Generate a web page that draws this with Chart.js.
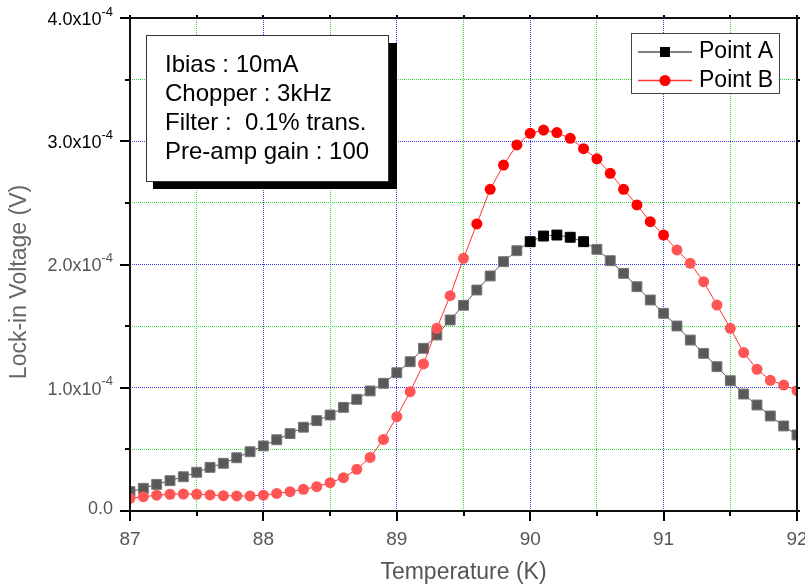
<!DOCTYPE html>
<html>
<head>
<meta charset="utf-8">
<title>Lock-in Voltage vs Temperature</title>
<script src="https://cdn.jsdelivr.net/npm/chart.js@4.4.0/dist/chart.umd.min.js"></script>
<style>
  html, body { margin: 0; padding: 0; background: #fff; }
</style>
</head>
<body>
<canvas id="chart" width="805" height="588"></canvas>
<script>
// Data (y values in units of 1e-4 V)
const temperature = [
  87.0, 87.1, 87.2, 87.3, 87.4, 87.5, 87.6, 87.7, 87.8, 87.9,
  88.0, 88.1, 88.2, 88.3, 88.4, 88.5, 88.6, 88.7, 88.8, 88.9,
  89.0, 89.1, 89.2, 89.3, 89.4, 89.5, 89.6, 89.7, 89.8, 89.9,
  90.0, 90.1, 90.2, 90.3, 90.4, 90.5, 90.6, 90.7, 90.8, 90.9,
  91.0, 91.1, 91.2, 91.3, 91.4, 91.5, 91.6, 91.7, 91.8, 91.9,
  92.0
];
const pointA = [
  0.157, 0.184, 0.216, 0.246, 0.278, 0.314, 0.354, 0.387, 0.432, 0.481,
  0.528, 0.578, 0.628, 0.680, 0.733, 0.779, 0.841, 0.906, 0.974, 1.036,
  1.122, 1.211, 1.320, 1.428, 1.550, 1.669, 1.793, 1.907, 2.023, 2.112,
  2.185, 2.231, 2.239, 2.221, 2.185, 2.123, 2.031, 1.928, 1.820, 1.712,
  1.604, 1.501, 1.387, 1.279, 1.171, 1.057, 0.949, 0.860, 0.771, 0.690,
  0.617
];
const pointB = [
  0.103, 0.116, 0.128, 0.136, 0.138, 0.136, 0.130, 0.124, 0.122, 0.122,
  0.128, 0.143, 0.157, 0.176, 0.197, 0.230, 0.270, 0.338, 0.435, 0.581,
  0.765, 0.968, 1.193, 1.482, 1.747, 2.050, 2.329, 2.610, 2.807, 2.970,
  3.064, 3.091, 3.070, 3.024, 2.940, 2.857, 2.740, 2.610, 2.483, 2.347,
  2.239, 2.118, 2.010, 1.861, 1.671, 1.482, 1.285, 1.150, 1.060, 1.022,
  0.976
];
const seriesNames = ['Point A', 'Point B'];
const yTickValues = [0, 1, 2, 3, 4];
const yTickLabels = ['0.0', '1.0x10', '2.0x10', '3.0x10', '4.0x10'];
const yTickExponents = ['', '-4', '-4', '-4', '-4'];
const infoLines = ['Ibias : 10mA', 'Chopper : 3kHz', 'Filter :  0.1% trans.', 'Pre-amp gain : 100'];

const FONT = 'Arial, "Liberation Sans", sans-serif';

// grid: blue dotted at whole values, green dotted at halves, none on the frame
function gridColor(min, max) {
  return function(ctx) {
    const v = ctx.tick ? ctx.tick.value : 0;
    if (v <= min || v >= max) return 'rgba(0,0,0,0)';
    return Number.isInteger(v) ? '#3a3aff' : '#2fe02f';
  };
}

// frame, tick marks, y labels with superscript, text box and legend
const decorations = {
  id: 'decorations',
  afterDraw(chart) {
    const ctx = chart.ctx;
    const a = chart.chartArea;
    const xs = chart.scales.x, ys = chart.scales.y;
    ctx.save();

    // tick marks (outward on left/bottom, short ones on top/right)
    ctx.strokeStyle = '#000';
    ctx.lineWidth = 2;
    ctx.beginPath();
    [87, 87.5, 88, 88.5, 89, 89.5, 90, 90.5, 91, 91.5, 92].forEach(v => {
      const px = Math.round(xs.getPixelForValue(v));
      const len = Number.isInteger(v) ? 10 : 5;
      ctx.moveTo(px, a.bottom); ctx.lineTo(px, a.bottom + len);
      ctx.moveTo(px, a.top); ctx.lineTo(px, a.top - 3);
    });
    [0, 0.5, 1, 1.5, 2, 2.5, 3, 3.5, 4].forEach(v => {
      const py = Math.round(ys.getPixelForValue(v));
      const len = Number.isInteger(v) ? 10 : 5;
      ctx.moveTo(a.left, py); ctx.lineTo(a.left - len, py);
      ctx.moveTo(a.right, py); ctx.lineTo(a.right + 3, py);
    });
    ctx.stroke();

    // frame
    ctx.strokeStyle = '#111';
    ctx.lineWidth = 2;
    ctx.strokeRect(a.left, a.top, a.right - a.left, a.bottom - a.top);

    // y tick labels
    ctx.textAlign = 'right';
    ctx.textBaseline = 'middle';
    yTickValues.forEach((v, i) => {
      const py = ys.getPixelForValue(v);
      const rx = a.left - 17;
      ctx.fillStyle = v >= 3 ? '#000' : '#555';
      if (yTickExponents[i]) {
        ctx.font = '13px ' + FONT;
        const w = ctx.measureText(yTickExponents[i]).width;
        ctx.fillText(yTickExponents[i], rx, py - 6);
        ctx.font = '18px ' + FONT;
        ctx.fillText(yTickLabels[i], rx - w, py + 2);
      } else {
        ctx.font = '18px ' + FONT;
        ctx.fillText(yTickLabels[i], rx, py - 2);
      }
    });

    // y title
    ctx.save();
    ctx.translate(20, 282);
    ctx.rotate(-Math.PI / 2);
    ctx.textAlign = 'center';
    ctx.fillStyle = '#666';
    ctx.font = '23px ' + FONT;
    ctx.fillText('Lock-in Voltage (V)', 0, 0);
    ctx.restore();

    // info box with shadow
    ctx.fillStyle = '#000';
    ctx.fillRect(153, 43, 244, 146);
    ctx.fillStyle = '#fff';
    ctx.fillRect(146, 35, 242, 146);
    ctx.strokeStyle = '#333';
    ctx.lineWidth = 1;
    ctx.strokeRect(146.5, 35.5, 242, 146);
    ctx.fillStyle = '#000';
    ctx.font = '24px ' + FONT;
    ctx.textAlign = 'left';
    infoLines.forEach((line, i) => ctx.fillText(line, 165, 65 + i * 29));

    // legend
    ctx.fillStyle = '#fff';
    ctx.fillRect(631.5, 33.5, 148, 60);
    ctx.strokeStyle = '#444';
    ctx.strokeRect(631.5, 33.5, 148, 60);
    chart.data.datasets.forEach((ds, i) => {
      const ly = 52 + i * 28.5;
      ctx.strokeStyle = ds.borderColor;
      ctx.lineWidth = 1.5;
      ctx.beginPath();
      ctx.moveTo(638, ly); ctx.lineTo(692, ly);
      ctx.stroke();
      ctx.fillStyle = i === 0 ? '#000' : '#ff0000';
      if (ds.pointStyle === 'rect') {
        ctx.fillRect(660, ly - 5, 10, 10);
      } else {
        ctx.beginPath();
        ctx.arc(665, ly, 5.5, 0, Math.PI * 2);
        ctx.fill();
      }
      ctx.fillStyle = '#000';
      ctx.font = '23px ' + FONT;
      ctx.fillText(ds.label, 699, ly);
    });

    ctx.restore();
  }
};

const chart = new Chart(document.getElementById('chart'), {
  type: 'line',
  data: {
    datasets: [
      {
        label: seriesNames[0],
        data: temperature.map((t, i) => ({ x: t, y: pointA[i] })),
        borderColor: '#555555',
        borderWidth: 1,
        pointStyle: 'rect',
        pointRadius: 7,
        pointBorderWidth: 1,
        pointBackgroundColor: c => (c.parsed && c.parsed.y > 2.15) ? '#000' : '#595959',
        pointBorderColor: c => (c.parsed && c.parsed.y > 2.15) ? '#000' : '#777',
        order: 1
      },
      {
        label: seriesNames[1],
        data: temperature.map((t, i) => ({ x: t, y: pointB[i] })),
        borderColor: '#ff3030',
        borderWidth: 1,
        pointStyle: 'circle',
        pointRadius: 5.5,
        pointBorderWidth: 0,
        pointBackgroundColor: c => (c.parsed && c.parsed.y > 2.15) ? '#ff0000' : '#ff5555',
        order: 0
      }
    ]
  },
  options: {
    responsive: false,
    animation: false,
    layout: { padding: { left: 0, right: 8, top: 18, bottom: 0 } },
    plugins: { legend: { display: false }, tooltip: { enabled: false } },
    scales: {
      x: {
        type: 'linear',
        min: 87, max: 92,
        afterFit(scale) { scale.height = 77; scale.paddingLeft = 0; scale.paddingRight = 0; },
        ticks: {
          stepSize: 0.5,
          autoSkip: false,
          maxRotation: 0,
          padding: 17,
          color: '#555',
          font: { family: FONT, size: 19 },
          callback: v => Number.isInteger(v) ? String(v) : ''
        },
        grid: { color: gridColor(87, 92), lineWidth: 1, drawTicks: false },
        border: { display: false, dash: [1, 1] },
        title: {
          display: true,
          text: 'Temperature (K)',
          color: '#555',
          font: { family: FONT, size: 23 },
          padding: 2
        }
      },
      y: {
        min: 0, max: 4,
        afterFit(scale) { scale.width = 130; scale.paddingTop = 0; scale.paddingBottom = 0; },
        ticks: { stepSize: 0.5, display: false },
        grid: { color: gridColor(0, 4), lineWidth: 1, drawTicks: false },
        border: { display: false, dash: [1, 1] }
      }
    }
  },
  plugins: [decorations]
});
</script>
</body>
</html>
